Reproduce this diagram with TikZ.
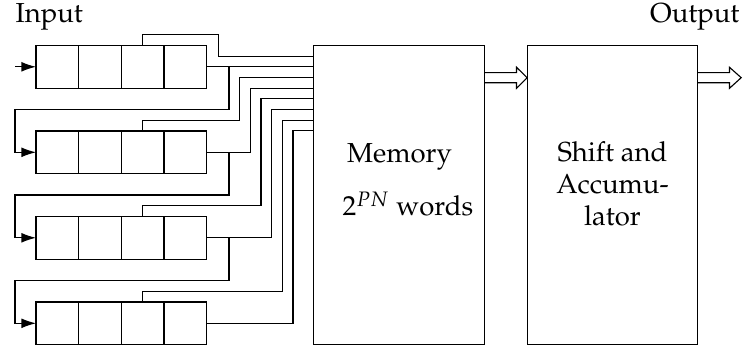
\documentclass[tikz,border=0pt]{standalone}
\usepackage[T1]{fontenc}
\usepackage{mathpazo}
\usetikzlibrary{calc,arrows.meta}

\begin{document}
\begin{tikzpicture}[x=0.4pt, y=-0.4pt, line width=0.45pt,
  cell/.style={draw, minimum width=17.07pt, minimum height=17.07pt,
    inner sep=0pt, outer sep=0pt},
  bigbox/.style={draw, minimum width=68.3pt, minimum height=119.6pt,
    inner sep=0pt, outer sep=0pt},
  feed/.style={-{Latex[length=5.8pt, width=3.9pt]}},
  lbl/.style={inner sep=0pt, font=\fontsize{11}{12.66}\selectfont}]
\useasboundingbox (0,0) rectangle (745,352);

% four shift registers of four cells each
\foreach \i in {1,...,4}
  \foreach \j in {1,...,4}
    \node[cell] (r\i-\j) at ({57.33+42.67*(\j-1)}, {66.8+85.5*(\i-1)}) {};

% memory and shift/accumulate blocks
\node[bigbox] (mem) at (398.8,194.8) {};
\node[bigbox] (shf) at (612.5,194.8) {};

% address inputs along the left side of the memory
\foreach \k in {0,...,7}
  \coordinate (in\k) at ($(mem.north west)+(0,{10.8+10.69*\k})$);
% routing columns between registers and memory
\foreach \m in {0,...,7}
  \coordinate (col\m) at ({218.3+10.67*\m}, 0);
\coordinate (lft) at (15,0);

% taps from the third cell of each register
\foreach \i/\k in {1/0, 2/2, 3/4, 4/6}
  \draw (r\i-3.north) -- ++(0,-10.7) -| (col\k |- in\k) -- (in\k);

% register outputs into the memory
\foreach \i/\k in {1/1, 2/3, 3/5, 4/7}
  \draw (r\i-4.east) -| (col\k |- in\k) -- (in\k);

% each register output feeds the next register
\foreach \i/\j in {1/2, 2/3, 3/4}
  \draw[feed] (col1 |- r\i-4.east) -- ++(0,42.7) -| (lft |- r\j-1.west) -- (r\j-1.west);

% serial input
\draw[feed] (lft |- r1-1.west) -- (r1-1.west);

% wide (bus) arrows
\coordinate (s1) at ($(mem.north east)+(0,32.4)$);
\coordinate (t1) at ($(shf.north west)+(0,32.4)$);
\coordinate (s2) at ($(shf.north east)+(0,32.4)$);
\coordinate (t2) at ($(s2)+(43.3,0)$);
\draw ($(s1)+(0,-5.1)$) -- ($(t1)+(-10.6,-5.1)$) -- ($(t1)+(-10.6,-10.4)$) -- (t1)
   -- ($(t1)+(-10.6,10.6)$) -- ($(t1)+(-10.6,5.1)$) -- ($(s1)+(0,5.1)$);
\draw ($(s2)+(0,-5.1)$) -- ($(t2)+(-11.7,-5.1)$) -- ($(t2)+(-11.7,-10.4)$) -- (t2)
   -- ($(t2)+(-11.7,10.6)$) -- ($(t2)+(-11.7,5.1)$) -- ($(s2)+(0,5.1)$);

% labels
\node[lbl, anchor=base west] (tin) at (15,23) {Input};
\node[lbl, anchor=base east] (tout) at (740,23) {Output};
\node[lbl, anchor=base] (tmem) at (399.5,163) {Memory};
\node[lbl, anchor=base] (twords) at (408,216) {$2^{PN}$ words};
\node[lbl, anchor=base, align=center] (tshf) at (612.5,225) {Shift and\\Accumu-\\lator};
\end{tikzpicture}
\end{document}
